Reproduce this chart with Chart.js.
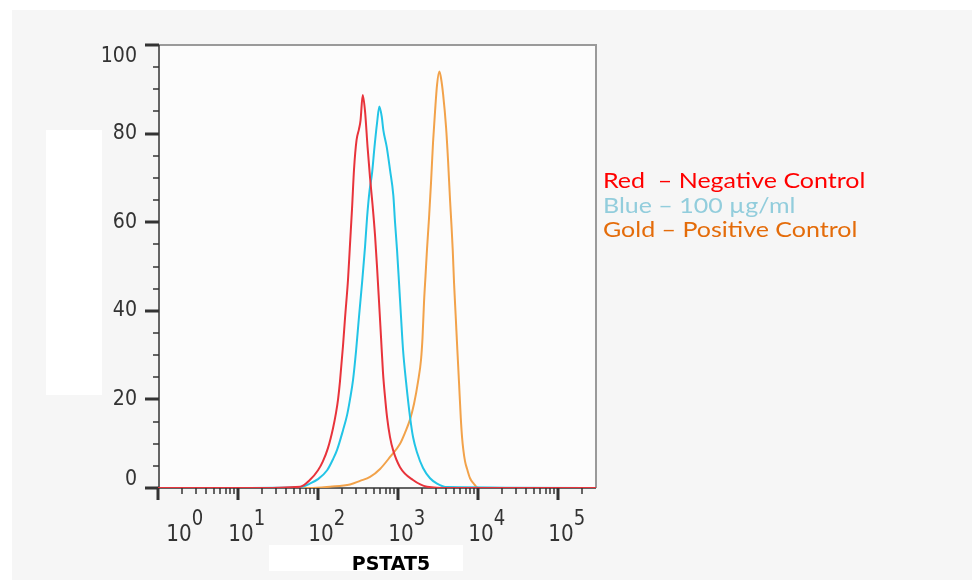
<!DOCTYPE html>
<html>
<head>
<meta charset="utf-8">
<title>PSTAT5</title>
<script src="https://cdn.jsdelivr.net/npm/chart.js@4.4.1/dist/chart.umd.min.js"></script>
<style>
	body { margin: 0; background: #ffffff; }
	.wrap { position: relative; width: 972px; height: 583px; overflow: hidden; }
	.bg { position: absolute; left: 12px; top: 10px; width: 960px; height: 570px; background: #f6f6f6; }
	.box-left { position: absolute; left: 46px; top: 130px; width: 56px; height: 265px; background: #ffffff; }
	.box-bottom { position: absolute; left: 269px; top: 545px; width: 194px; height: 26px; background: #ffffff; }
	#myChart { position: absolute; left: 0; top: 0; }
</style>
</head>
<body>
<div class="wrap">
	<div class="bg"></div>
	<div class="box-left"></div>
	<div class="box-bottom"></div>
	<canvas id="myChart" width="972" height="583"></canvas>
</div>
<script>
/* 資料 */
// 螢光強度 (x) 與細胞數 (y)
var redX = [1, 14, 60, 79, 100, 115, 133, 154, 168, 178, 188, 205, 218, 237, 251, 266, 282, 303, 325, 340, 362, 387, 416, 447, 480, 516, 546, 579, 613, 649, 688, 729, 794, 866, 1059, 1540, 2304, 4467, 298000];
var redY = [0, 0, 0.3, 1.8, 4, 6, 9, 13.5, 17, 20, 24, 32, 38.6, 47, 55, 63, 72, 78.5, 81, 83, 88.7, 85, 77, 70, 64, 57, 50, 42, 34, 26, 20.5, 16, 11.5, 8.6, 4.7, 1.8, 0.3, 0, 0];

var blueX = [1, 14, 60, 79, 100, 130, 154, 173, 205, 231, 251, 274, 299, 325, 355, 387, 410, 440, 473, 508, 546, 584, 626, 655, 722, 794, 874, 917, 972, 1029, 1090, 1155, 1259, 1413, 1540, 1728, 2054, 2512, 3073, 4097, 298000];
var blueY = [0, 0, 0.2, 1, 2, 4, 6.5, 8.6, 13, 16.5, 20, 24.4, 31, 38.6, 46.3, 54.5, 61, 67, 71, 77, 82.3, 86.1, 83.8, 80.8, 77, 71.8, 66, 60, 53.7, 46.3, 38.6, 31.2, 24, 16, 11.5, 8, 4.5, 2.2, 1, 0.2, 0];

var goldX = [1, 79, 141, 251, 335, 447, 596, 794, 1059, 1223, 1413, 1585, 1778, 1939, 2024, 2113, 2207, 2304, 2441, 2585, 2738, 2901, 3073, 3283, 3447, 3652, 3981, 4217, 4467, 4665, 4828, 5012, 5263, 5511, 5788, 6077, 6310, 6549, 6879, 7350, 7943, 8735, 10000, 298000];
var goldY = [0, 0, 0.3, 0.8, 1.6, 2.5, 4.3, 7, 10, 12.5, 15.5, 19, 24, 29, 34, 42, 48, 54, 61, 69, 78, 85, 91, 94, 92.5, 89, 81.5, 74, 65, 59, 53.7, 46.3, 38.6, 31.2, 23.7, 16, 11.5, 8.6, 6, 4.1, 2.2, 1.1, 0, 0];

// 座標軸刻度
var yTicks = [0, 20, 40, 60, 80, 100];
var xDecades = [0, 1, 2, 3, 4, 5];
var xTitle = 'PSTAT5';

// 圖例文字
var legendLines = [
	{ text: 'Red  \u2013 Negative Control', color: '#ff0000' },
	{ text: 'Blue \u2013 100 \u00b5g/ml', color: '#92cddc' },
	{ text: 'Gold \u2013 Positive Control', color: '#e46c0a' }
];

function toPoints(xs, ys) {
	var pts = [];
	for (var i = 0; i < xs.length; i++) {
		pts.push({ x: xs[i], y: ys[i] });
	}
	return pts;
}

// 縮放後寫字 (字型比較窄高)
function drawText(ctx, text, x, y, sx, sy) {
	ctx.save();
	ctx.translate(x, y);
	ctx.scale(sx, sy);
	ctx.fillText(text, 0, 0);
	ctx.restore();
}

/* 座標軸、外框與文字 */
var axisPlugin = {
	id: 'axisPlugin',
	beforeDatasetsDraw: function(chart) {
		var ctx = chart.ctx;
		var area = chart.chartArea;
		var xs = chart.scales.x;
		var ys = chart.scales.y;
		var i, k, px, py;

		ctx.save();
		// 繪圖區底色
		ctx.fillStyle = '#fcfcfc';
		ctx.fillRect(area.left, area.top, area.right - area.left, area.bottom - area.top);

		// 上方與右方外框
		ctx.strokeStyle = '#9a9a9a';
		ctx.lineWidth = 2;
		ctx.beginPath();
		ctx.moveTo(area.left, area.top);
		ctx.lineTo(area.right, area.top);
		ctx.lineTo(area.right, area.bottom);
		ctx.stroke();

		// Y 軸
		ctx.strokeStyle = '#333333';
		ctx.lineWidth = 1.5;
		ctx.beginPath();
		ctx.moveTo(area.left + 1, area.top);
		ctx.lineTo(area.left + 1, area.bottom);
		ctx.stroke();
		for (k = 0; k <= 100; k += 5) {
			py = Math.round(ys.getPixelForValue(k));
			var major = k % 20 === 0;
			ctx.lineWidth = major ? 3 : 1.5;
			ctx.beginPath();
			ctx.moveTo(area.left - (major ? 13 : 5), py);
			ctx.lineTo(area.left + 1, py);
			ctx.stroke();
		}

		// X 軸
		ctx.lineWidth = 1.5;
		ctx.beginPath();
		ctx.moveTo(area.left, area.bottom);
		ctx.lineTo(area.right, area.bottom);
		ctx.stroke();
		for (i = 0; i < xDecades.length; i++) {
			for (k = 1; k <= 9; k++) {
				var v = k * Math.pow(10, xDecades[i]);
				if (v > xs.max) break;
				px = Math.round(xs.getPixelForValue(v));
				ctx.lineWidth = k === 1 ? 3 : 1.5;
				ctx.beginPath();
				ctx.moveTo(px, area.bottom);
				ctx.lineTo(px, area.bottom + (k === 1 ? 12 : 6));
				ctx.stroke();
			}
		}

		// Y 軸標籤
		ctx.fillStyle = '#333333';
		ctx.font = '19px "DejaVu Sans"';
		ctx.textAlign = 'right';
		ctx.textBaseline = 'middle';
		for (i = 0; i < yTicks.length; i++) {
			var shift = 0;
			if (yTicks[i] === 100) shift = 12;
			if (yTicks[i] === 0) shift = -8;
			drawText(ctx, String(yTicks[i]), 137, ys.getPixelForValue(yTicks[i]) + shift, 1, 1.1);
		}

		// X 軸標籤 10^n
		ctx.textBaseline = 'alphabetic';
		for (i = 0; i < xDecades.length; i++) {
			px = xs.getPixelForValue(Math.pow(10, xDecades[i])) + (i === 0 ? 21 : 3);
			ctx.font = '20px "DejaVu Sans"';
			ctx.textAlign = 'center';
			drawText(ctx, '10', px, area.bottom + 53, 1, 1.18);
			var w = ctx.measureText('10').width;
			ctx.font = '19px "DejaVu Sans"';
			ctx.textAlign = 'left';
			drawText(ctx, String(xDecades[i]), px + w / 2, area.bottom + 37, 0.95, 1.12);
		}

		// X 軸標題
		ctx.fillStyle = '#000000';
		ctx.font = 'bold 19px "DejaVu Sans"';
		ctx.textAlign = 'center';
		ctx.fillText(xTitle, (area.left + area.right) / 2 + 14, area.bottom + 82);

		// 圖例
		ctx.font = '21px Lato';
		ctx.textAlign = 'left';
		for (i = 0; i < legendLines.length; i++) {
			ctx.fillStyle = legendLines[i].color;
			drawText(ctx, legendLines[i].text, area.right + 7, 188 + i * 24.5, 1.19, 1);
		}
		ctx.restore();
	}
};

var ctx = document.getElementById('myChart');
var myChart = new Chart(ctx, {
	type: 'line',
	data: {
		datasets: [{
			label: 'Red',
			data: toPoints(redX, redY),
			borderColor: '#e8333b',
			borderWidth: 2
		}, {
			label: 'Blue',
			data: toPoints(blueX, blueY),
			borderColor: '#22c4e6',
			borderWidth: 2
		}, {
			label: 'Gold',
			data: toPoints(goldX, goldY),
			borderColor: '#f2a24a',
			borderWidth: 2
		}]
	},
	options: {
		responsive: false,
		animation: false,
		layout: {
			padding: { left: 158, top: 45, right: 376, bottom: 95 }
		},
		elements: {
			point: { radius: 0 },
			line: { cubicInterpolationMode: 'monotone', fill: false }
		},
		scales: {
			x: { type: 'logarithmic', min: 1, max: 298000, display: false },
			y: { type: 'linear', min: 0, max: 100, display: false }
		},
		plugins: {
			legend: { display: false },
			tooltip: { enabled: false }
		}
	},
	plugins: [axisPlugin]
});
</script>
</body>
</html>
